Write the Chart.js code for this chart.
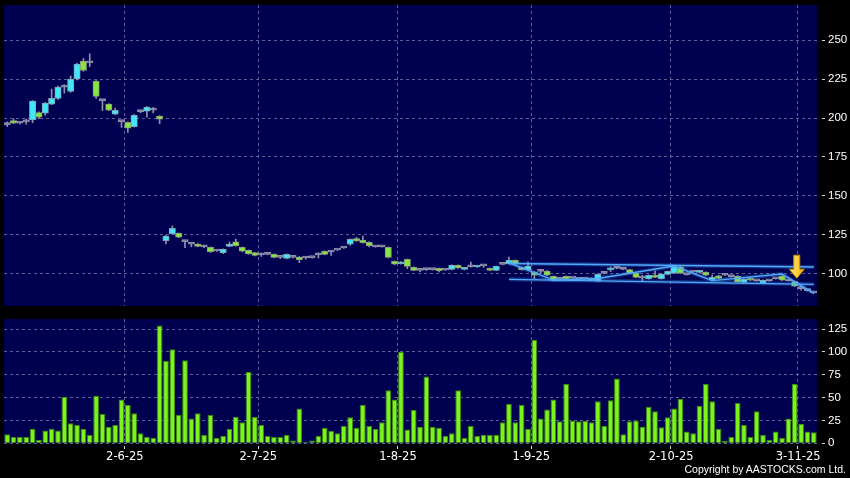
<!DOCTYPE html>
<html><head><meta charset="utf-8">
<script src="https://cdn.jsdelivr.net/npm/chart.js@4.4.1/dist/chart.umd.min.js"></script>
<style>
html,body{margin:0;padding:0;background:#000;width:850px;height:478px;overflow:hidden;}
#wrap{position:relative;width:850px;height:478px;background:#000;}
#price{position:absolute;left:0;top:0;}
#vol{position:absolute;left:0;top:312px;}
#copy{position:absolute;right:4px;top:463px;color:#fff;font:10.5px "Liberation Sans",Arial,sans-serif;white-space:nowrap;}
</style></head><body>
<div id="wrap">
<canvas id="price" width="850" height="312"></canvas>
<canvas id="vol" width="850" height="166"></canvas>
<div id="copy">Copyright by AASTOCKS.com Ltd.</div>
</div>
<script>
// ---- tick labels (x axis) ----
const tickLabels = ['2-6-25','2-7-25','1-8-25','1-9-25','2-10-25','3-11-25'];
const tickIndex  = [19, 40, 62, 83, 105, 125];

// ---- daily OHLC ----
const open = [
195.8,198.4,196.7,197.5,198.8,203.5,203.1,208.9,212.5,219.8,
217,225,236.5,235.4,223.7,211.2,208.9,202.5,197.7,197.3,
194.5,204.1,204.4,205,201.2,121.3,125.8,126,120.7,119,
119.2,117.4,117,114.7,113.6,117.7,120.5,117,115.1,113.6,
112.1,112.5,112.5,110.6,110,110.6,110.8,110.2,110.4,112.3,
114.5,114,115.3,116.6,119,122.6,121.7,120.3,117.4,117.4,
117,108,106.5,109.3,104.2,102.3,102.7,102.7,103.5,102.5,
102.9,105.5,102.9,104.6,104.4,105.2,103.5,102.3,106.1,106.5,
108.7,104.2,102.7,101.2,101.6,101.8,98.4,96.5,98.4,97.3,
96.7,96.7,97.1,95.4,100.3,102.6,103.5,102.9,102.7,100.3,
97.3,96.9,99.1,96.9,99.7,100.5,104.6,99.5,101.2,101,
101,96.2,98.8,99.1,98.2,98.6,94.6,97.3,95.6,94.1,
95.6,96.9,98.6,95.6,95,90.5,89.3,87.9];
const close = [
195.8,196.7,196.7,197.5,210.8,200.5,209.5,212.7,219.8,219.8,
225,234.6,230.5,235.4,213.8,211.2,205,205,197.7,193.5,
201.8,204.1,207,205,199.3,124.3,129.3,123.5,120.7,119,
117.7,117.4,114.2,114.7,115.8,119.2,118.1,114.5,112.9,111.9,
112.1,112.5,110.6,110.6,112.5,110.6,109.1,110.2,110.4,112.3,
112.5,114,115.3,116.6,122.2,121.1,120,118.1,117.4,117.4,
110.6,106.3,107.6,104.8,102.3,102.3,102.7,102.7,102,102.5,
105.5,103.8,104,104.6,105.2,105.2,102.3,104.8,106.1,108.7,
106.5,102.7,105,99.1,101.6,99.1,96,96.5,96.7,97.3,
96.7,96.7,95.9,99.7,100.3,103.4,103.5,102.9,100.5,97.8,
97.3,99.1,97.8,99.9,101.6,104.6,100.5,99.5,101.2,101.8,
99.1,97.8,97.1,99.1,98.2,94.8,96.7,96,95.6,95.9,
95.6,96.9,96,95.6,92.2,90.5,89.3,87.9];
const high = [
197.5,199.5,197.2,199.3,211.2,204,210,218.5,220.5,221.3,
227,235,238.2,241.2,224,211.5,209.2,206.3,198.2,197.6,
202.2,205,207.3,206.8,201.5,124.7,130.7,126.3,121,119.3,
119.5,118.2,117.3,115,116.1,120.5,122.4,117.3,115.4,113.9,
113.5,112.8,112.8,110.9,112.8,110.9,111.2,111.2,110.7,113.5,
114.8,114.8,115.6,116.9,122.5,123.4,124.3,120.6,117.7,117.7,
117.3,108.3,107.9,109.6,104.5,102.8,103.6,103,103.8,102.8,
105.8,105.8,104.3,107.6,105.5,105.5,103.8,105.1,106.4,110.8,
109,104.5,107.6,101.5,102.8,102.1,98.7,96.8,98.7,97.6,
97,97,97.4,100,100.6,104.5,105,103.2,103,100.6,
99.2,99.4,102,100.2,101.9,104.9,104.9,99.8,101.5,102.1,
101.3,99.4,99.1,99.4,98.5,98.9,97,97.6,95.9,96.2,
95.9,97.2,98.9,95.9,95.3,92,89.6,88.2];
const low = [
194.5,196.5,196.2,196,197,199.5,201.8,208.5,212,216,
216.5,224.5,230,233,212.5,204.8,204.7,202.2,194,190.7,
194.2,203.3,200.5,203.3,196.3,119.2,125.5,123.2,116.8,117.4,
117.4,116.8,113.8,114.4,113,117.4,117.8,114.2,112.5,111.6,
111.2,112.2,110.3,109.8,109.7,110.3,107.2,109.4,110.1,110.2,
112.2,111.8,115,116.3,118.2,120.8,119.7,117.3,117.1,117.1,
110.3,106,106.2,103.4,102,101.5,102.2,102.4,101.3,102.2,
102.6,103.5,102.6,104.3,104.1,104.2,102,102,105.8,106.2,
106.2,102.4,102.4,96.9,100.4,98.8,95.7,96.2,96.4,97,
96.4,96.4,95.6,95.1,100,101.5,103.2,102.6,100.2,97.5,
95.4,96.6,97.5,96.6,99.4,100.2,100.2,99.2,100.9,100.7,
98.8,95.9,96.8,98.8,97.9,94.5,94.3,95.7,95.3,93.8,
95.3,96.6,95.7,95.3,91.9,89.5,89,87.6];

// ---- daily volume ----
const volume = [
10,7,7,7,16,4,14,16,14,51,
22,20,16,9,52,32,18,20,48,42,
33,11,7,6,129,90,103,31,91,27,
33,9,31,6,8,16,29,23,78,29,
20,8,7,7,9,3,38,1.5,3,8,
17,13.5,11,19,28.5,17,42,19,16,23,
58,48,100,15,36.5,18,73,18,17,8,
11,58,6,19,8,9,9,9,23,43,
23,42,16,113,27,37,48,24,65,25,
24,24.5,23,46,19,47,71,10,24,25,
18,40,35,17.5,28.5,38,48.5,13,11,41,
65,46,16,2.6,7,44,20,7,35,9,
3.6,13,6,27,65,21,13,12];

// ---- drawn trend lines (day index, price) ----
const upperIdx = [79, 127], upperVal = [106.7, 104.4];
const lowerIdx = [79, 127], lowerVal = [96.5, 93.3];
const zigIdx = [79, 86, 93, 105, 111, 122, 127];
const zigVal = [107.1, 96, 97, 105, 95.7, 99.9, 87.5];
// ---- signal arrow ----
const signalIdx = [124];

// ---- axes ----
const priceMin = 79.4, priceMax = 272.5, priceStep = 25;
const volMin = 0, volMax = 136, volStep = 25;

const N = volume.length;
const categories = Array.from({length: N}, (_, i) => {
  const k = tickIndex.indexOf(i); return k >= 0 ? tickLabels[k] : '';
});

const NAVY = '#000050';
const GRID = 'rgba(118,118,172,0.8)';
const UP_FILL = '#40e6f6', UP_EDGE = '#7fa6b8';
const DN_FILL = '#88e640', DN_EDGE = '#8a9c78';
const DOJI = '#9090aa', WICK = '#9090aa';
const VOL_FILL = '#7cf41c', VOL_EDGE = '#3e8a0e';
const LINE = '#50aaff';

Chart.defaults.font.family = '"DejaVu Sans", sans-serif';
Chart.defaults.color = '#ffffff';

const bgPlugin = {
  id: 'navyBg',
  beforeDraw(chart) {
    const {ctx, chartArea: a} = chart;
    ctx.save(); ctx.fillStyle = NAVY;
    ctx.fillRect(a.left, a.top, a.right - a.left, a.bottom - a.top);
    ctx.restore();
  }
};

const arrowPlugin = {
  id: 'arrow',
  afterDatasetsDraw(chart) {
    const {ctx} = chart; const x = chart.scales.x, y = chart.scales.y;
    signalIdx.forEach(i => {
      const cx = x.getPixelForValue(i) + 2;
      const tip = y.getPixelForValue(high[i]) - 3;
      const h = 23, hw = 7.5, sw = 3, headH = 9;
      ctx.save();
      ctx.beginPath();
      ctx.moveTo(cx - sw, tip - h); ctx.lineTo(cx + sw, tip - h);
      ctx.lineTo(cx + sw, tip - headH); ctx.lineTo(cx + hw, tip - headH);
      ctx.lineTo(cx, tip); ctx.lineTo(cx - hw, tip - headH);
      ctx.lineTo(cx - sw, tip - headH); ctx.closePath();
      const g = ctx.createLinearGradient(cx - hw, 0, cx + hw, 0);
      g.addColorStop(0, '#ffe27a'); g.addColorStop(0.5, '#ffd23a'); g.addColorStop(1, '#f0a810');
      ctx.fillStyle = g; ctx.fill();
      ctx.lineWidth = 1; ctx.strokeStyle = '#c88a00'; ctx.stroke();
      ctx.restore();
    });
  }
};

const gridX = c => (c.tick && c.tick.label) ? GRID : 'rgba(0,0,0,0)';
const tickX = c => (c.tick && c.tick.label) ? '#d8d8d8' : 'rgba(0,0,0,0)';

function xAxis(showLabels, h) {
  return {
    type: 'category', offset: true,
    grid: { offset: true, color: gridX, lineWidth: 1, drawTicks: showLabels,
            tickLength: 6, tickColor: tickX, tickBorderDash: [0, 3, 3, 40] },
    border: { display: false, dash: [3, 3] },
    ticks: { display: showLabels, autoSkip: false, maxRotation: 0, minRotation: 0,
             padding: 1, labelOffset: -3, color: '#fff',
             font: { family: '"DejaVu Sans", sans-serif', size: 11.5 } },
    afterFit: s => { s.height = h; s.paddingLeft = 0; s.paddingRight = 0; }
  };
}
function yAxis(min, max, step) {
  return {
    position: 'right', min, max,
    grid: { color: GRID, lineWidth: 1, drawTicks: true, tickLength: 8,
            tickColor: '#d8d8d8', tickBorderDash: [0, 5, 3, 40] },
    border: { display: false, dash: [3, 3] },
    ticks: { stepSize: step, includeBounds: false, padding: 3, color: '#fff',
             font: { family: '"Liberation Sans", Arial, sans-serif', size: 11.5 } },
    afterFit: s => { s.width = 33; s.paddingTop = 0; s.paddingBottom = 0; }
  };
}

const lineData = (idx, val) => {
  const a = new Array(N).fill(null); idx.forEach((i, k) => a[i] = val[k]); return a;
};
const bodyFill = c => close[c.dataIndex] > open[c.dataIndex] ? UP_FILL : (close[c.dataIndex] < open[c.dataIndex] ? DN_FILL : DOJI);
const bodyEdge = c => close[c.dataIndex] > open[c.dataIndex] ? UP_EDGE : (close[c.dataIndex] < open[c.dataIndex] ? DN_EDGE : DOJI);
const lineDs = (idx, val, w, col, ord) => ({
  type: 'line', data: lineData(idx, val), spanGaps: true, borderColor: col,
  borderWidth: w, pointRadius: 0, tension: 0, order: ord
});

new Chart(document.getElementById('price'), {
  type: 'bar',
  data: {
    labels: categories,
    datasets: [
      lineDs(upperIdx, upperVal, 1.4, LINE, -2),
      lineDs(lowerIdx, lowerVal, 1.4, LINE, -2),
      lineDs(zigIdx, zigVal, 1.4, LINE, -2),
      lineDs(upperIdx, upperVal, 4, 'rgba(80,170,255,0.25)', -1),
      lineDs(lowerIdx, lowerVal, 4, 'rgba(80,170,255,0.25)', -1),
      lineDs(zigIdx, zigVal, 4, 'rgba(80,170,255,0.25)', -1),
      { data: open.map((o, i) => [o, close[i]]), backgroundColor: bodyFill, borderColor: bodyEdge,
        borderWidth: 1, borderSkipped: false, minBarLength: 2, grouped: false,
        barPercentage: 1, categoryPercentage: 1, order: 0 },
      { data: low.map((l, i) => [l, high[i]]), backgroundColor: WICK, borderWidth: 0,
        barThickness: 1, grouped: false, order: 1 }
    ]
  },
  options: {
    responsive: false, animation: false, devicePixelRatio: 1,
    layout: { padding: { left: 4, top: 5, right: 0, bottom: 6 } },
    plugins: { legend: { display: false }, tooltip: { enabled: false } },
    scales: { x: xAxis(false, 0), y: yAxis(priceMin, priceMax, priceStep) }
  },
  plugins: [bgPlugin, arrowPlugin]
});

new Chart(document.getElementById('vol'), {
  type: 'bar',
  data: {
    labels: categories,
    datasets: [{ data: volume, backgroundColor: VOL_FILL, borderColor: VOL_EDGE, borderWidth: 1,
                 barPercentage: 0.9, categoryPercentage: 1 }]
  },
  options: {
    responsive: false, animation: false, devicePixelRatio: 1,
    layout: { padding: { left: 4, top: 7, right: 0, bottom: 0 } },
    plugins: { legend: { display: false }, tooltip: { enabled: false } },
    scales: { x: xAxis(true, 34.7), y: yAxis(volMin, volMax, volStep) }
  },
  plugins: [bgPlugin]
});
</script>
</body></html>
